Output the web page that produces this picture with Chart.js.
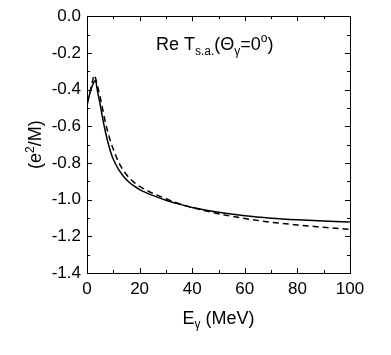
<!DOCTYPE html>
<html>
<head>
<meta charset="utf-8">
<script src="https://cdn.jsdelivr.net/npm/chart.js@4.4.0/dist/chart.umd.min.js"></script>
<style>
  html, body { margin: 0; padding: 0; background: #fff; }
  #wrap { width: 391px; height: 355px; position: relative; }
</style>
</head>
<body>
<div id="wrap"><canvas id="chart"></canvas></div>
<script>
// photon energy (MeV) and Re T_s.a. values in units of e^2/M
const energySolid = [0, 0.5, 1, 1.5, 2, 2.5, 3.2, 4, 5, 6, 7, 8, 9, 10, 12, 14, 16, 18, 20, 25, 30, 35, 40, 50, 60, 70, 80, 90, 100];
const solidValues = [-0.49, -0.455, -0.425, -0.40, -0.38, -0.362, -0.35, -0.41, -0.48, -0.56, -0.63, -0.69, -0.74, -0.78, -0.835, -0.875, -0.905, -0.927, -0.945, -0.977, -1.003, -1.024, -1.043, -1.069, -1.088, -1.101, -1.11, -1.117, -1.122];

const energyDashed = [0, 1, 2, 2.8, 3.2, 4, 5, 6, 7, 8, 9, 10, 12, 14, 16, 18, 20, 25, 30, 35, 40, 50, 60, 70, 80, 90, 100];
const dashedValues = [-0.47, -0.42, -0.36, -0.322, -0.335, -0.38, -0.44, -0.51, -0.58, -0.635, -0.685, -0.725, -0.795, -0.845, -0.88, -0.907, -0.928, -0.965, -0.995, -1.022, -1.043, -1.077, -1.103, -1.123, -1.138, -1.151, -1.162];

const xTicks = [0, 20, 40, 60, 80, 100];
const yTicks = [0.0, -0.2, -0.4, -0.6, -0.8, -1.0, -1.2, -1.4];

const FONT = 'Liberation Sans, Arial, Helvetica, sans-serif';

function toPoints(xs, ys) {
  return xs.map((x, i) => ({ x, y: ys[i] }));
}

// inward ticks on all four sides, frame, titles with sub/superscripts
const decorPlugin = {
  id: 'decor',
  afterDraw(chart) {
    const { ctx, chartArea: a, scales: { x, y } } = chart;
    ctx.save();
    ctx.strokeStyle = '#000';
    ctx.lineWidth = 1;
    ctx.beginPath();
    for (let v = 0; v <= 100; v += 10) {
      const px = Math.round(x.getPixelForValue(v)) + 0.5;
      const len = v % 20 === 0 ? 5 : 3;
      ctx.moveTo(px, a.bottom); ctx.lineTo(px, a.bottom - len);
      ctx.moveTo(px, a.top); ctx.lineTo(px, a.top + len);
    }
    for (let k = 0; k <= 14; k++) {
      const py = Math.round(y.getPixelForValue(-k / 10)) + 0.5;
      const len = k % 2 === 0 ? 5 : 3;
      ctx.moveTo(a.left, py); ctx.lineTo(a.left + len, py);
      ctx.moveTo(a.right, py); ctx.lineTo(a.right - len, py);
    }
    ctx.stroke();
    ctx.strokeRect(Math.round(a.left) + 0.5, Math.round(a.top) + 0.5,
      Math.round(a.right - a.left), Math.round(a.bottom - a.top));

    ctx.fillStyle = '#000';
    ctx.textBaseline = 'alphabetic';

    // x title: E_γ (MeV)
    const cx = (a.left + a.right) / 2;
    const big = '18px ' + FONT, small = '12px ' + FONT;
    ctx.font = big; const wE = ctx.measureText('E').width;
    ctx.font = small; const wg = ctx.measureText('γ').width;
    ctx.font = big; const wR = ctx.measureText(' (MeV)').width;
    let sx = cx - (wE + wg + wR) / 2;
    const by = 324;
    ctx.textAlign = 'left';
    ctx.font = big; ctx.fillText('E', sx, by); sx += wE;
    ctx.font = small; ctx.fillText('γ', sx, by + 4); sx += wg;
    ctx.font = big; ctx.fillText(' (MeV)', sx, by);

    // y title: (e²/M), rotated
    ctx.save();
    ctx.translate(41, (a.top + a.bottom) / 2);
    ctx.rotate(-Math.PI / 2);
    const parts = [['(e', big, 0], ['2', small, -7], ['/M)', big, 0]];
    let tot = 0;
    parts.forEach(p => { ctx.font = p[1]; tot += ctx.measureText(p[0]).width; });
    let tx = -tot / 2;
    parts.forEach(p => { ctx.font = p[1]; ctx.fillText(p[0], tx, p[2]); tx += ctx.measureText(p[0]).width; });
    ctx.restore();

    // annotation: Re T_s.a.(Θ_γ=0°)
    const ann = [['Re T', big, 0], ['s.a.', small, 5], ['(Θ', big, 0], ['γ', small, 5], ['=0', big, 0], ['o', small, -8], [')', big, 0]];
    let ax = 156;
    const ay = 50;
    ann.forEach(p => { ctx.font = p[1]; ctx.fillText(p[0], ax, ay + p[2]); ax += ctx.measureText(p[0]).width; });
    ctx.restore();
  }
};

new Chart(document.getElementById('chart'), {
  type: 'line',
  data: {
    datasets: [{
      data: toPoints(energySolid, solidValues),
      borderColor: '#000',
      borderWidth: 1.5,
      pointRadius: 0,
      cubicInterpolationMode: 'monotone',
      fill: false
    }, {
      data: toPoints(energyDashed, dashedValues),
      borderColor: '#000',
      borderWidth: 1.5,
      borderDash: [6, 4],
      pointRadius: 0,
      cubicInterpolationMode: 'monotone',
      fill: false
    }]
  },
  options: {
    responsive: true,
    maintainAspectRatio: false,
    animation: false,
    events: [],
    layout: { padding: { left: 0, top: 12, right: 41, bottom: 0 } },
    plugins: { legend: { display: false }, tooltip: { enabled: false } },
    scales: {
      x: {
        type: 'linear',
        min: 0,
        max: 100,
        afterFit: (s) => { s.height = 82; },
        afterBuildTicks: (s) => { s.ticks = xTicks.map(v => ({ value: v })); },
        grid: { display: false, drawTicks: false },
        border: { display: false },
        ticks: {
          padding: 6,
          maxRotation: 0,
          color: '#000',
          font: { family: FONT, size: 17 },
          callback: (v) => String(v)
        }
      },
      y: {
        type: 'linear',
        min: -1.4,
        max: 0,
        afterFit: (s) => { s.width = 87; },
        afterBuildTicks: (s) => { s.ticks = yTicks.map(v => ({ value: v })); },
        grid: { display: false, drawTicks: false },
        border: { display: false },
        ticks: {
          padding: 6,
          color: '#000',
          font: { family: FONT, size: 17 },
          callback: (v) => v.toFixed(1)
        }
      }
    }
  },
  plugins: [decorPlugin]
});
</script>
</body>
</html>
